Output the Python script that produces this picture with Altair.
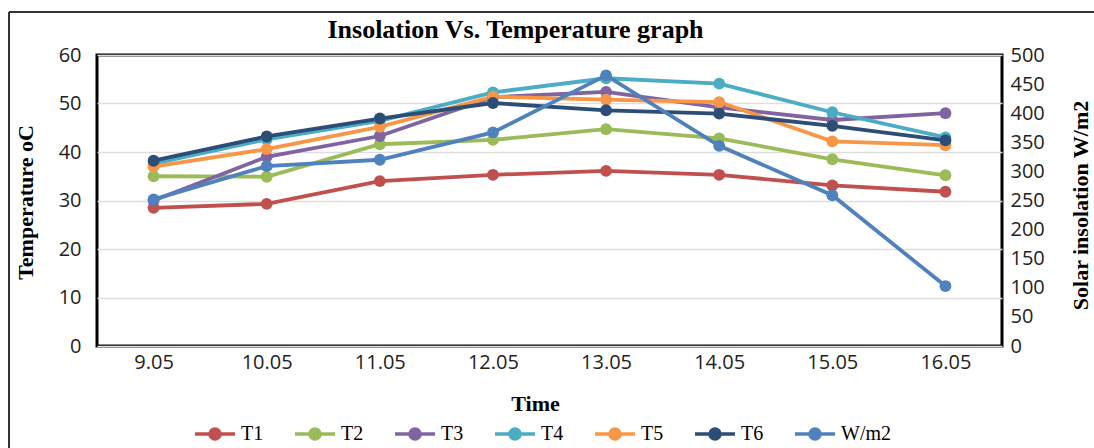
import altair as alt
import pandas as pd

dates = ["9.05", "10.05", "11.05", "12.05", "13.05", "14.05", "15.05", "16.05"]
T1 = [28.5, 29.3, 34.0, 35.3, 36.1, 35.3, 33.1, 31.8]
T2 = [35.0, 34.9, 41.6, 42.5, 44.7, 42.8, 38.5, 35.2]
T3 = [30.0, 39.0, 43.3, 51.3, 52.4, 49.2, 46.6, 48.0]
T4 = [37.6, 42.6, 46.4, 52.3, 55.2, 54.1, 48.2, 43.0]
T5 = [37.0, 40.6, 45.2, 51.4, 50.8, 50.3, 42.2, 41.4]
T6 = [38.2, 43.2, 46.9, 50.1, 48.6, 47.9, 45.4, 42.4]
W = [252, 309, 320, 367, 465, 344, 259, 103]

series_names = ["T1", "T2", "T3", "T4", "T5", "T6", "W/m2"]
colors = ["#C0504D", "#9BBB59", "#8064A2", "#4BACC6", "#F79646", "#2C4D75", "#4F81BD"]

temps = {"T1": T1, "T2": T2, "T3": T3, "T4": T4, "T5": T5, "T6": T6}
rows = []
for i, (name, vals) in enumerate(temps.items()):
    for j, (d, v) in enumerate(zip(dates, vals)):
        rows.append({"date": d, "series": name, "value": v, "order": i})
temp_df = pd.DataFrame(rows)
w_df = pd.DataFrame({"date": dates, "series": ["W/m2"] * len(dates), "value": W})

serif = "Liberation Serif"
sans = "Open Sans"

def circ(r):
    return f"M{r},0A{r},{r},0,1,1,-{r},0A{r},{r},0,1,1,{r},0"

sym_path = "M-1,0L1,0" + "".join(circ(r) for r in [0.04, 0.11, 0.18, 0.25])

color = alt.Color(
    "series:N",
    scale=alt.Scale(domain=series_names, range=colors),
    legend=alt.Legend(
        title=None, orient="none", direction="horizontal",
        legendX=96, legendY=357,
        symbolType=sym_path, symbolSize=1600, symbolStrokeWidth=3.5,
        labelFont=serif, labelFontSize=20, labelColor="black",
        labelOffset=4, columnPadding=24, padding=0,
    ),
)

x = alt.X(
    "date:O", sort=dates,
    scale=alt.Scale(type="point", padding=0.5),
    axis=alt.Axis(
        title="Time", titleFont=serif, titleFontSize=22, titleFontWeight="bold",
        titleColor="black", titleX=438, titleY=57, titleBaseline="middle",
        labelFont=sans, labelFontSize=20, labelColor="#222222", labelAngle=0,
        labelPadding=6, ticks=False, domain=False, grid=False,
    ),
)

temp_layer = alt.Chart(temp_df).mark_line(
    strokeWidth=3.8, point=alt.OverlayMarkDef(filled=True, size=140, opacity=1)
).encode(
    x=x,
    y=alt.Y(
        "value:Q",
        scale=alt.Scale(domain=[0, 60]),
        axis=alt.Axis(
            title="Temperature oC", titleFont=serif, titleFontSize=22,
            titleFontWeight="bold", titleColor="black", titleAngle=-90,
            titleX=-72, titleY=147, titleAlign="center", titleBaseline="middle",
            values=[0, 10, 20, 30, 40, 50, 60],
            labelFont=sans, labelFontSize=20, labelColor="#222222",
            labelPadding=16, ticks=False, domain=False,
            grid=True, gridColor="#DDDDDD", gridWidth=1.5,
        ),
    ),
    color=color,
    order="order:Q",
)

w_layer = alt.Chart(w_df).mark_line(
    strokeWidth=3.8, point=alt.OverlayMarkDef(filled=True, size=140, opacity=1)
).encode(
    x=x,
    y=alt.Y(
        "value:Q",
        scale=alt.Scale(domain=[0, 500]),
        axis=alt.Axis(
            orient="right",
            title="Solar insolation W/m2", titleFont=serif, titleFontSize=22,
            titleFontWeight="bold", titleColor="black", titleAngle=-90,
            titleX=78, titleY=150, titleAlign="center", titleBaseline="middle",
            values=list(range(0, 501, 50)),
            labelFont=sans, labelFontSize=20, labelColor="#222222",
            labelPadding=8, ticks=False, domain=False, grid=False,
        ),
    ),
    color=color,
)

frame_left = alt.Chart(pd.DataFrame({"k": [0]})).mark_rule(
    color="#333333", strokeWidth=2, clip=False
).encode(x=alt.value(-88), y=alt.value(-43), y2=alt.value(400))
frame_top = alt.Chart(pd.DataFrame({"k": [0]})).mark_rule(
    color="#333333", strokeWidth=2, clip=False
).encode(x=alt.value(-88), x2=alt.value(1000), y=alt.value(-43))

chart = alt.layer(frame_left, frame_top, temp_layer, w_layer).resolve_scale(
    y="independent"
).properties(
    width=905, height=291,
    title=alt.TitleParams(
        "Insolation Vs. Temperature graph", font=serif, fontSize=26,
        fontWeight="bold", color="black", anchor="middle", frame="group",
        dx=-34, offset=-32,
    ),
    autosize=alt.AutoSizeParams(type="none"),
    padding={"left": 97, "top": 55, "right": 92, "bottom": 102},
    background="white",
).configure_view(stroke="black", strokeWidth=3)

chart.save("out.html", embed_options={"renderer": "svg", "actions": False})
